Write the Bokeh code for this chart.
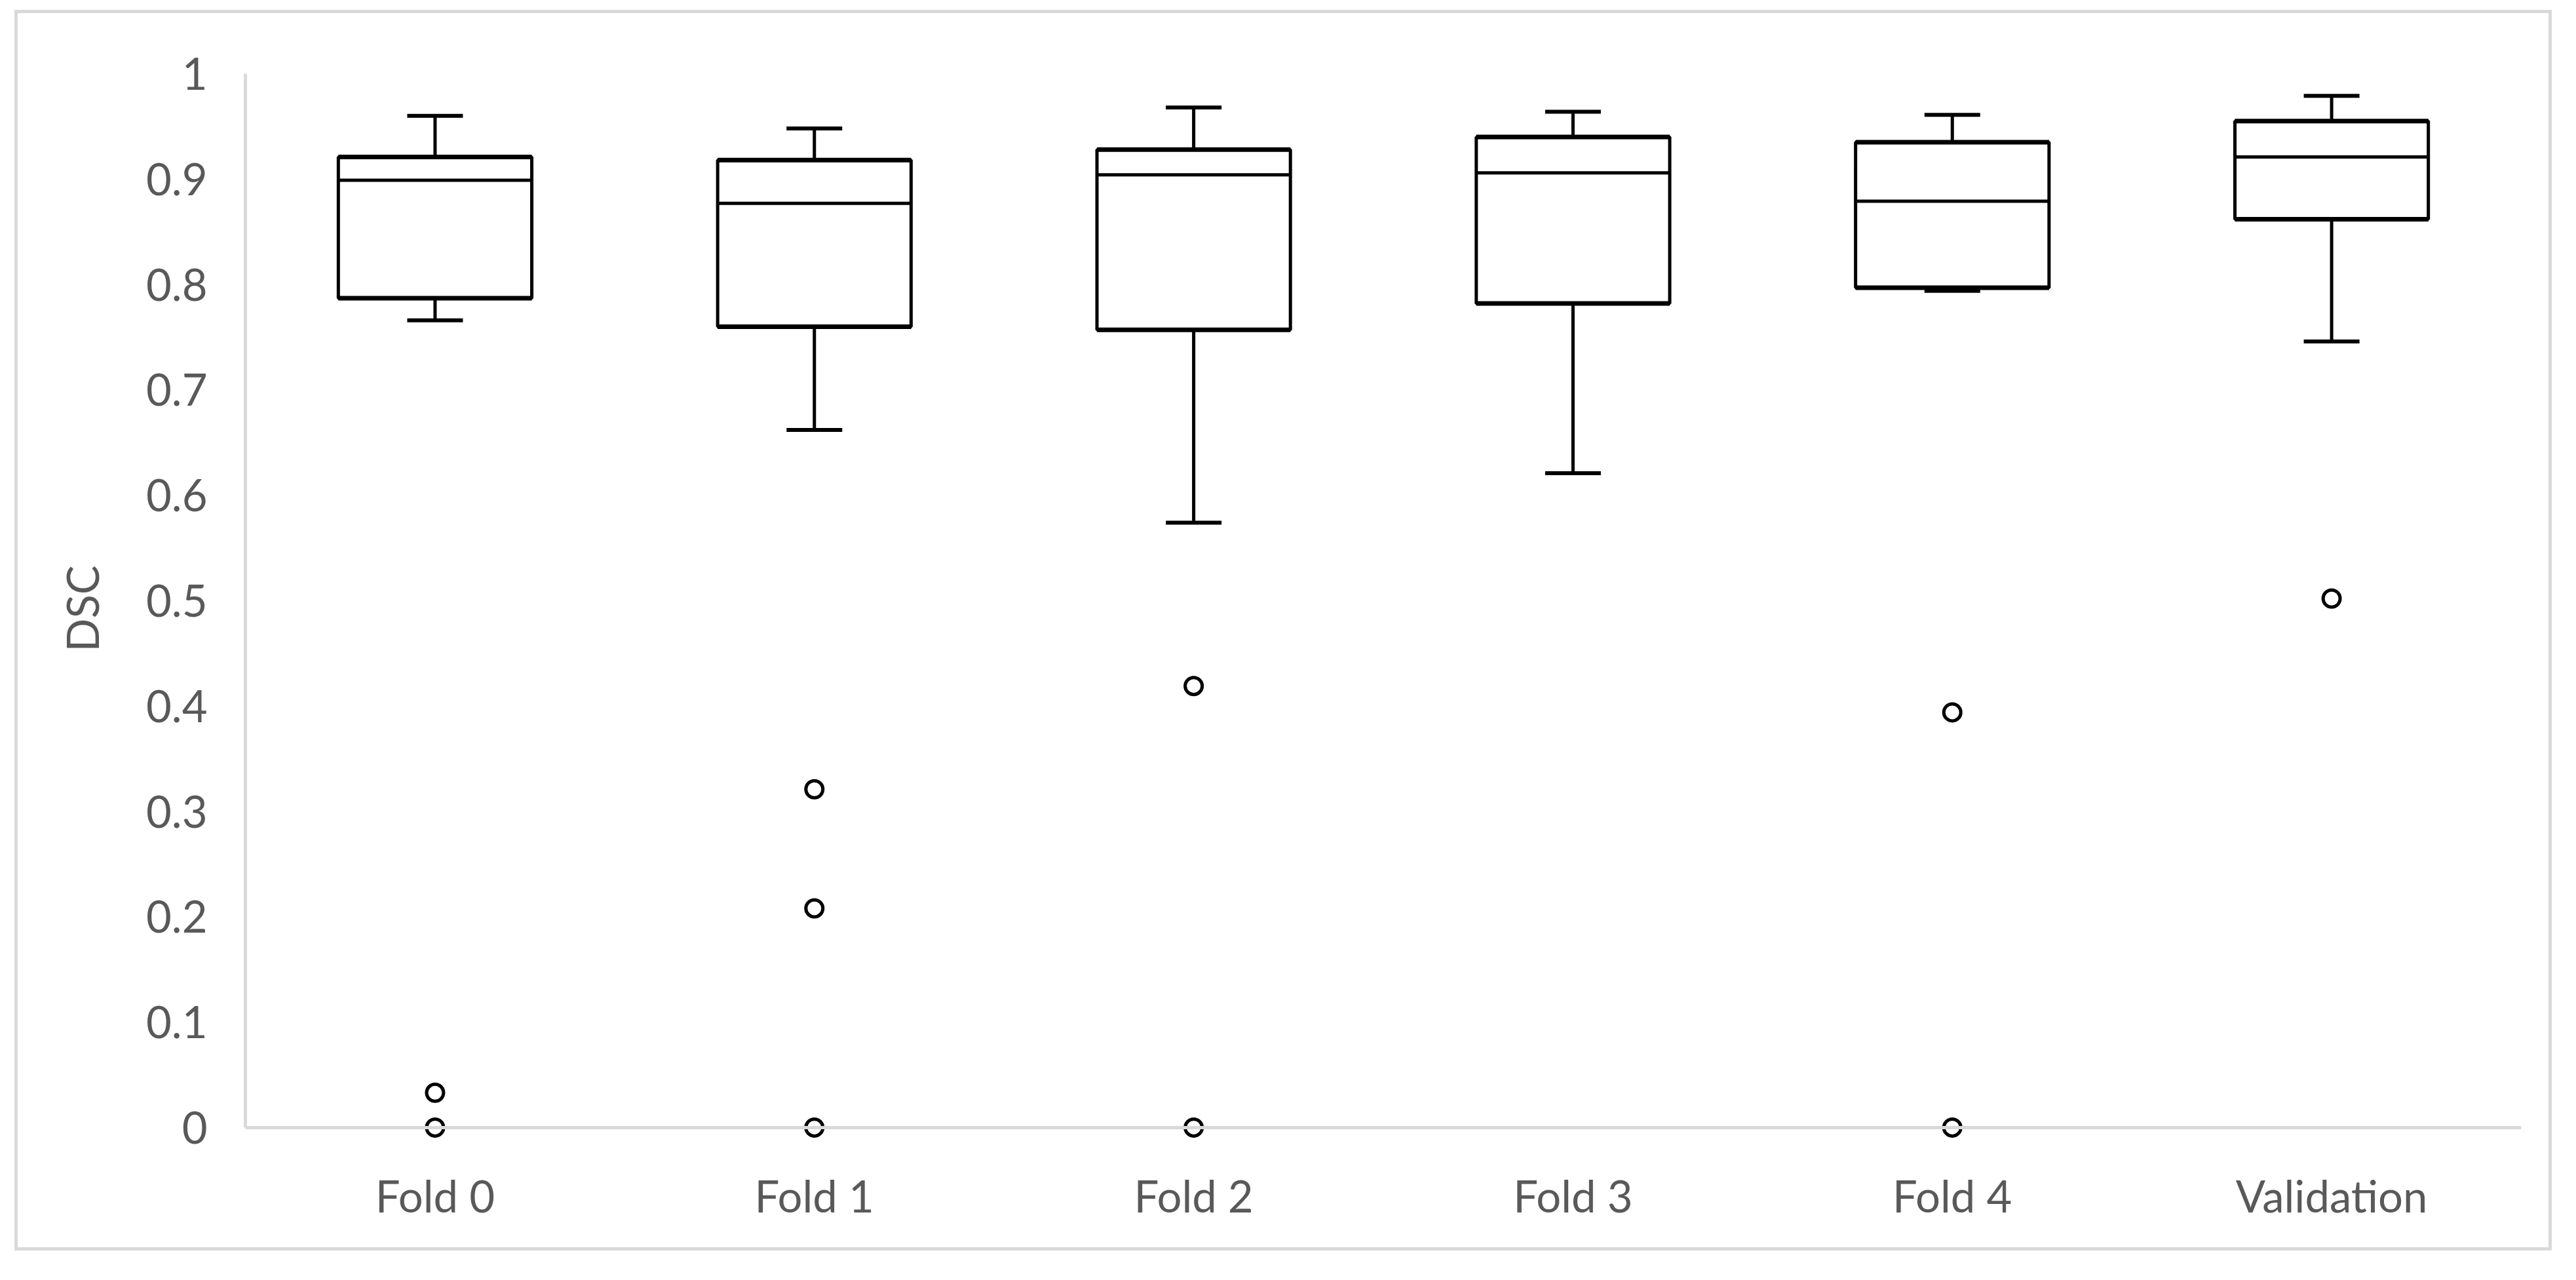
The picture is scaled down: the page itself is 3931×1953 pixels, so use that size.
from bokeh.plotting import figure
from bokeh.models import (ColumnDataSource, FactorRange, Range1d, FixedTicker,
                          Whisker, TeeHead, Span)
from bokeh.embed import file_html
from bokeh.resources import INLINE

# ---------------- data ----------------
categories = ["Fold 0", "Fold 1", "Fold 2", "Fold 3", "Fold 4", "Validation"]
whisker_low = [0.766, 0.662, 0.574, 0.621, 0.794, 0.746]
q1 = [0.787, 0.760, 0.757, 0.782, 0.797, 0.862]
median = [0.899, 0.877, 0.904, 0.906, 0.879, 0.921]
q3 = [0.921, 0.918, 0.928, 0.940, 0.935, 0.955]
whisker_high = [0.960, 0.948, 0.968, 0.964, 0.961, 0.979]

outlier_cats = ["Fold 0", "Fold 0", "Fold 1", "Fold 1", "Fold 1",
                "Fold 2", "Fold 2", "Fold 4", "Fold 4", "Validation"]
outlier_vals = [0.033, 0.0, 0.321, 0.208, 0.0,
                0.419, 0.0, 0.394, 0.0, 0.502]

y_ticks = [0, 0.1, 0.2, 0.3, 0.4, 0.5, 0.6, 0.7, 0.8, 0.9, 1]
y_tick_labels = ["0", "0.1", "0.2", "0.3", "0.4", "0.5", "0.6", "0.7", "0.8", "0.9", "1"]
y_axis_title = "DSC"

# ---------------- styling ----------------
FONT = "Lato"
FSIZE = "67px"
TXT = "#595959"
LIGHT = "#d9d9d9"

# canvas sits inside a 5px light-grey chart-area border
W, H = 3862, 1883

p = figure(width=W, height=H, x_range=FactorRange(factors=categories),
           y_range=Range1d(-0.015, 1.0), output_backend="svg",
           toolbar_location=None, min_border_left=347, min_border_right=52,
           min_border_top=92, min_border_bottom=169,
           styles={"border": "5px solid " + LIGHT,
                   "box-sizing": "content-box",
                   "margin-left": "22px", "margin-top": "15px"})

p.background_fill_color = "white"
p.border_fill_color = "white"
p.outline_line_color = None
p.xgrid.visible = False
p.ygrid.visible = False

src = ColumnDataSource(dict(cat=categories, lo=whisker_low, q1=q1, med=median,
                            q3=q3, hi=whisker_high))

BOX_W = 0.51

# whiskers
p.add_layout(Whisker(base="cat", upper="hi", lower="q3", source=src,
                     line_color="black", line_width=5,
                     upper_head=TeeHead(size=85, line_width=6, line_color="black"),
                     lower_head=None, level="glyph"))
p.add_layout(Whisker(base="cat", upper="q1", lower="lo", source=src,
                     line_color="black", line_width=5,
                     lower_head=TeeHead(size=85, line_width=6, line_color="black"),
                     upper_head=None, level="glyph"))

# box
p.vbar(x="cat", width=BOX_W, bottom="q1", top="q3", source=src,
       fill_color="white", line_color="black", line_width=5)
# median line
p.vbar(x="cat", width=BOX_W, bottom="med", top="med", source=src,
       fill_color=None, line_color="black", line_width=5)
# heavier top/bottom edges
p.vbar(x="cat", width=BOX_W, bottom="q1", top="q1", source=src,
       fill_color=None, line_color="black", line_width=7)
p.vbar(x="cat", width=BOX_W, bottom="q3", top="q3", source=src,
       fill_color=None, line_color="black", line_width=7)

# outliers
osrc = ColumnDataSource(dict(cat=outlier_cats, v=outlier_vals))
p.scatter(x="cat", y="v", source=osrc, marker="circle", size=26,
          fill_color="white", line_color="black", line_width=5)

# horizontal axis line at zero (drawn over markers)
p.add_layout(Span(location=0, dimension="width", line_color=LIGHT,
                  line_width=5))

# axes
xa = p.xaxis[0]
xa.axis_line_color = None
xa.major_tick_line_color = None
xa.minor_tick_line_color = None
xa.major_label_text_font = FONT
xa.major_label_text_font_size = FSIZE
xa.major_label_text_color = TXT
xa.major_label_standoff = 33

ya = p.yaxis[0]
ya.ticker = FixedTicker(ticks=y_ticks)
ya.major_label_overrides = {t: l for t, l in zip(y_ticks, y_tick_labels)}
ya.bounds = (0, 1)
ya.axis_line_color = LIGHT
ya.axis_line_width = 5
ya.major_tick_line_color = None
ya.minor_tick_line_color = None
ya.major_label_text_font = FONT
ya.major_label_text_font_size = FSIZE
ya.major_label_text_color = TXT
ya.major_label_standoff = 52
ya.axis_label = y_axis_title
ya.axis_label_text_font = FONT
ya.axis_label_text_font_size = FSIZE
ya.axis_label_text_font_style = "normal"
ya.axis_label_text_color = TXT
ya.axis_label_standoff = 55

open("out.html", "w").write(file_html(p, INLINE))
